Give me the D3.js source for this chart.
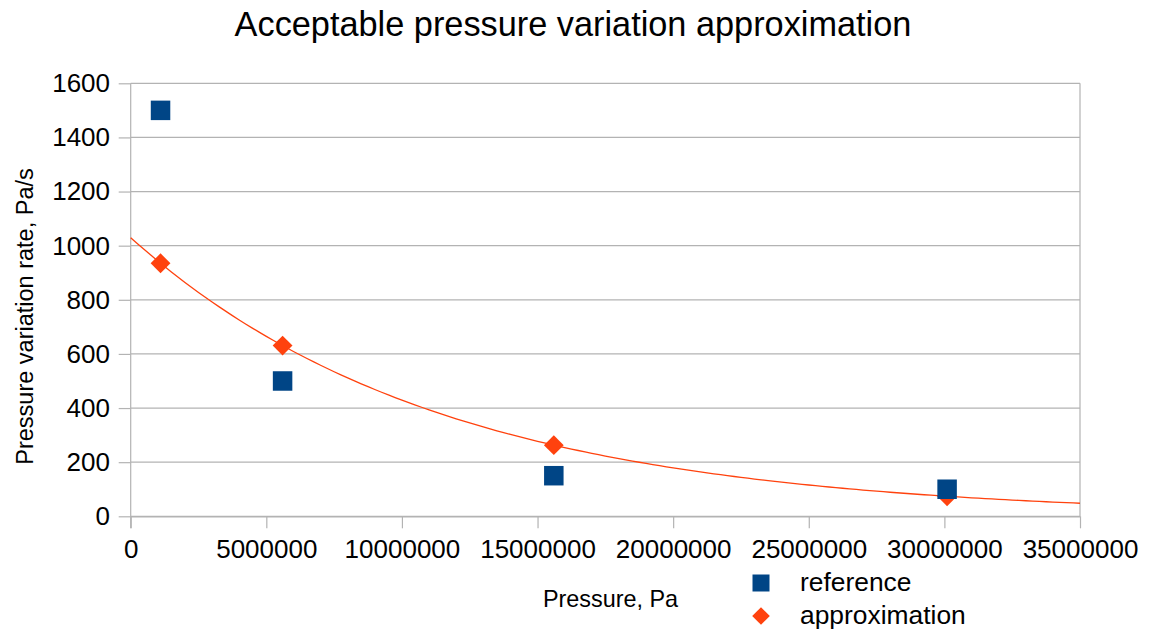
<!DOCTYPE html>
<html>
<head>
<meta charset="utf-8">
<script src="https://cdn.jsdelivr.net/npm/d3@7/dist/d3.min.js"></script>
<style>
  html, body { margin: 0; padding: 0; background: #fff; }
  svg { display: block; font-family: "Liberation Sans", Arial, sans-serif; }
</style>
</head>
<body>
<svg id="chart" width="1149" height="630"></svg>
<script>
// Measured points: pressure (Pa) against acceptable variation rate (Pa/s)
const pressure = [1100000, 5600000, 15600000, 30100000];
const referenceRate = [1500, 500, 150, 100];
const approximationRate = [935, 631, 263, 74];

const xTicks = [0, 5000000, 10000000, 15000000, 20000000, 25000000, 30000000, 35000000];
const yTicks = [0, 200, 400, 600, 800, 1000, 1200, 1400, 1600];

const seriesNames = ["reference", "approximation"];
const seriesColors = ["#004586", "#ff420e"];

const titleText = "Acceptable pressure variation approximation";
const xTitle = "Pressure, Pa";
const yTitle = "Pressure variation rate, Pa/s";

const svg = d3.select("#chart");
const plot = { left: 130.7, right: 1080, top: 83.3, bottom: 516.3 };
const gridColor = "#b3b3b3";

const x = d3.scaleLinear().domain([0, 35000000]).range([plot.left, plot.right]);
const y = d3.scaleLinear().domain([0, 1600]).range([plot.bottom, plot.top]);

// Horizontal gridlines
svg.append("g")
  .selectAll("line")
  .data(yTicks)
  .join("line")
  .attr("x1", plot.left).attr("x2", plot.right)
  .attr("y1", d => y(d)).attr("y2", d => y(d))
  .attr("stroke", gridColor).attr("stroke-width", 1.2);

// Right edge of the plot area
svg.append("line")
  .attr("x1", x(35000000)).attr("x2", x(35000000))
  .attr("y1", y(1600)).attr("y2", y(0))
  .attr("stroke", gridColor).attr("stroke-width", 1.2);

// X axis
const xAxis = svg.append("g")
  .attr("transform", `translate(0,${plot.bottom})`)
  .call(d3.axisBottom(x).tickValues(xTicks).tickFormat(d3.format("d"))
    .tickSize(12).tickSizeOuter(0).tickPadding(11.5));

// Y axis
const yAxis = svg.append("g")
  .attr("transform", `translate(${plot.left},0)`)
  .call(d3.axisLeft(y).tickValues(yTicks).tickFormat(d3.format("d"))
    .tickSize(12).tickSizeOuter(0).tickPadding(8.7));

[xAxis, yAxis].forEach(g => {
  g.select(".domain").attr("stroke", gridColor).attr("stroke-width", 1.2);
  g.selectAll(".tick line").attr("stroke", gridColor).attr("stroke-width", 1.2);
  g.selectAll(".tick text")
    .attr("fill", "#000")
    .style("font-size", "26px")
    .style("font-family", "'Liberation Sans', Arial, sans-serif");
});
yAxis.select(".domain").attr("d", `M0,${plot.bottom + 12}V${plot.top}`);

// Exponential trend fitted to the approximation series (least squares on ln y)
const lnY = approximationRate.map(v => Math.log(v));
const mx = d3.mean(pressure), my = d3.mean(lnY);
const sxy = d3.sum(pressure, (p, i) => (p - mx) * (lnY[i] - my));
const sxx = d3.sum(pressure, p => (p - mx) * (p - mx));
const slope = sxy / sxx;
const intercept = my - slope * mx;
const trendX = d3.range(0, 35000000 + 1, 250000);

svg.append("path")
  .datum(trendX)
  .attr("fill", "none")
  .attr("stroke", seriesColors[1])
  .attr("stroke-width", 1.3)
  .attr("d", d3.line()
    .x(d => x(d))
    .y(d => y(Math.exp(intercept + slope * d))));

// Markers
const squareSym = d3.symbol().type(d3.symbolSquare).size(19.5 * 19.5);
const diamondSym = d3.symbol().type(d3.symbolSquare).size(14 * 14);

svg.append("g")
  .selectAll("path")
  .data(pressure.map((p, i) => ({ p, v: approximationRate[i] })))
  .join("path")
  .attr("d", diamondSym)
  .attr("fill", seriesColors[1])
  .attr("transform", d => `translate(${x(d.p)},${y(d.v)}) rotate(45)`);

svg.append("g")
  .selectAll("path")
  .data(pressure.map((p, i) => ({ p, v: referenceRate[i] })))
  .join("path")
  .attr("d", squareSym)
  .attr("fill", seriesColors[0])
  .attr("transform", d => `translate(${x(d.p)},${y(d.v)})`);

// Titles
svg.append("text")
  .attr("x", 573).attr("y", 35.5)
  .attr("text-anchor", "middle")
  .style("font-size", "34.3px")
  .attr("fill", "#000")
  .text(titleText);

svg.append("text")
  .attr("x", 610.5).attr("y", 606.7)
  .attr("text-anchor", "middle")
  .style("font-size", "23.4px")
  .attr("fill", "#000")
  .text(xTitle);

svg.append("text")
  .attr("transform", "translate(32.5,316.5) rotate(-90)")
  .attr("text-anchor", "middle")
  .style("font-size", "23.5px")
  .attr("fill", "#000")
  .text(yTitle);

// Legend
const legend = svg.append("g");
const legendRows = [
  { name: seriesNames[0], sym: d3.symbol().type(d3.symbolSquare).size(17 * 17), rot: 0, cy: 583, base: 591, color: seriesColors[0] },
  { name: seriesNames[1], sym: d3.symbol().type(d3.symbolSquare).size(12.5 * 12.5), rot: 45, cy: 616, base: 623.5, color: seriesColors[1] }
];
legendRows.forEach(r => {
  legend.append("path")
    .attr("d", r.sym)
    .attr("fill", r.color)
    .attr("transform", `translate(761,${r.cy}) rotate(${r.rot})`);
  legend.append("text")
    .attr("x", 800).attr("y", r.base)
    .style("font-size", "26.4px")
    .attr("fill", "#000")
    .text(r.name);
});
</script>
</body>
</html>
